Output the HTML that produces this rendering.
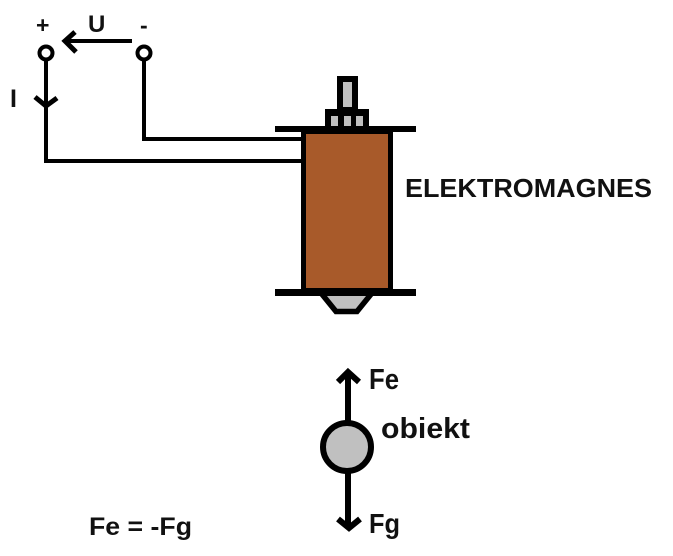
<!DOCTYPE html>
<html>
<head>
<meta charset="utf-8">
<style>
html,body{margin:0;padding:0;background:#fff;}
svg{display:block;}
text{font-family:"Liberation Sans",sans-serif;font-weight:bold;fill:#111;}
</style>
</head>
<body>
<svg width="673" height="556" viewBox="0 0 673 556" xmlns="http://www.w3.org/2000/svg">
<rect width="673" height="556" fill="#fff"/>
<!-- wires -->
<g fill="none" stroke="#000" stroke-width="4">
<path d="M46 60V161H302"/>
<path d="M144 60V139H302"/>
<path d="M132 41H68"/>
</g>
<g fill="none" stroke="#000" stroke-width="5">
<path d="M75 32L65 41L76 52"/>
<path d="M35 97L46 106L57 98"/>
</g>
<circle cx="46" cy="53" r="6.500" fill="#fff" stroke="#000" stroke-width="4"/>
<circle cx="144" cy="53" r="6.500" fill="#fff" stroke="#000" stroke-width="4"/>
<!-- top rod -->
<rect x="337" y="76" width="21" height="52" fill="#000"/>
<rect x="343" y="82" width="9" height="25" fill="#c0c0c0"/>
<rect x="325" y="109" width="44" height="19" fill="#000"/>
<rect x="331" y="116" width="7" height="10" fill="#c0c0c0"/>
<rect x="344" y="116" width="7" height="10" fill="#c0c0c0"/>
<rect x="356" y="116" width="7" height="10" fill="#c0c0c0"/>
<!-- coil -->
<rect x="301" y="126" width="92" height="170" fill="#000"/>
<rect x="306" y="134" width="82" height="154" fill="#a85a2a"/>
<rect x="275" y="126" width="141" height="6" fill="#000"/>
<rect x="275" y="289" width="141" height="7" fill="#000"/>
<!-- bottom tip -->
<path d="M321 293H372L357 311.500H336Z" fill="#c0c0c0" stroke="#000" stroke-width="5.500"/>
<rect x="318" y="289" width="57" height="7" fill="#000"/>
<!-- object -->
<g fill="none" stroke="#000" stroke-width="6">
<path d="M348 375V424"/>
<path d="M348 470V526"/>
<path d="M338 382L348 372L359 382"/>
<path d="M338 519L349 528L360 519"/>
</g>
<circle cx="347" cy="447" r="24" fill="#c0c0c0" stroke="#000" stroke-width="6"/>
<!-- labels -->
<text x="36" y="33" font-size="23">+</text>
<text x="140" y="33" font-size="23">-</text>
<text x="88" y="32" font-size="24">U</text>
<text x="10" y="107" font-size="25">I</text>
<text x="405" y="197" font-size="26" textLength="247" lengthAdjust="spacingAndGlyphs">ELEKTROMAGNES</text>
<text x="369" y="389" font-size="29" textLength="30" lengthAdjust="spacingAndGlyphs">Fe</text>
<text x="381" y="438" font-size="29" textLength="89" lengthAdjust="spacingAndGlyphs">obiekt</text>
<text x="369" y="533" font-size="28" textLength="31" lengthAdjust="spacingAndGlyphs">Fg</text>
<text x="89" y="535" font-size="25" textLength="103" lengthAdjust="spacingAndGlyphs">Fe = -Fg</text>
</svg>
</body>
</html>
